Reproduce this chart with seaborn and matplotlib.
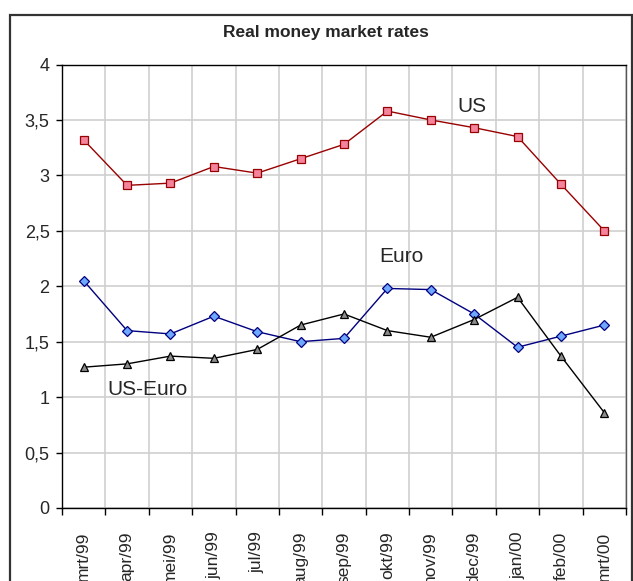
import matplotlib
matplotlib.use("Agg")
import matplotlib.pyplot as plt
from matplotlib.patches import Rectangle
import numpy as np
import pandas as pd
import seaborn as sns

months = ["mrt/99", "apr/99", "mei/99", "jun/99", "jul/99", "aug/99", "sep/99",
          "okt/99", "nov/99", "dec/99", "jan/00", "feb/00", "mrt/00"]
us = [3.32, 2.91, 2.93, 3.08, 3.02, 3.15, 3.28, 3.58, 3.50, 3.43, 3.35, 2.92, 2.50]
euro = [2.05, 1.60, 1.57, 1.73, 1.59, 1.50, 1.53, 1.98, 1.97, 1.75, 1.45, 1.55, 1.65]
us_euro = [1.27, 1.30, 1.37, 1.35, 1.43, 1.65, 1.75, 1.60, 1.54, 1.70, 1.90, 1.37, 0.86]
y_ticks = [0, 0.5, 1, 1.5, 2, 2.5, 3, 3.5, 4]
y_tick_labels = ["0", "0,5", "1", "1,5", "2", "2,5", "3", "3,5", "4"]
title = "Real money market rates"

sns.set_style("white")
plt.rcParams['font.family'] = ['Liberation Sans', 'DejaVu Sans']

fig = plt.figure(figsize=(6.33, 5.81), dpi=100)
ax = fig.add_axes([62 / 633, 1 - 508 / 581, (626 - 62) / 633, (508 - 64.5) / 581])

xpos = np.arange(len(months))
sns.lineplot(x=xpos, y=us, ax=ax, color="#990000", lw=1.0, marker="s", ms=5.5,
             markerfacecolor="#F4849C", markeredgecolor="#990000", markeredgewidth=0.9)
sns.lineplot(x=xpos, y=euro, ax=ax, color="#000080", lw=1.0, marker="D", ms=4.8,
             markerfacecolor="#6FA8FF", markeredgecolor="#000080", markeredgewidth=0.9)
sns.lineplot(x=xpos, y=us_euro, ax=ax, color="black", lw=1.0, marker="^", ms=6,
             markerfacecolor="#8C8C8C", markeredgecolor="black", markeredgewidth=0.9)

ax.set_xlim(-0.5, len(months) - 0.5)
ax.set_ylim(0, 4)
ax.set_xticks(np.arange(-0.5, len(months), 1.0))
ax.set_xticklabels([])
ax.set_xticks(xpos, minor=True)
ax.set_xticklabels(months, minor=True, rotation=90, fontsize=12.5)
ax.tick_params(axis='x', which='major', direction='out', length=5, width=1, color='black', bottom=True)
ax.tick_params(axis='x', which='minor', length=0, pad=17)
ax.set_yticks(y_ticks)
ax.set_yticklabels(y_tick_labels, fontsize=13)
ax.tick_params(axis='y', direction='out', length=4, width=1, color='black', left=True, pad=5)

ax.grid(True, which='major', color='#CFCFCF', lw=1.2)
for s in ax.spines.values():
    s.set_color('black')
    s.set_linewidth(1.0)
ax.spines['right'].set_color('#555555')
ax.set_axisbelow(True)

ax.text(8.95, 3.617, "US", fontsize=15, ha='center', va='center')
ax.text(7.33, 2.27, "Euro", fontsize=15, ha='center', va='center')
ax.text(1.48, 1.072, "US-Euro", fontsize=15, ha='center', va='center')

fig.text(325.5 / 633, 1 - 32 / 581, title, fontsize=12.5, fontweight='bold',
         ha='center', va='center')

fig.patches.append(Rectangle((10 / 633, -0.05), 631.5 / 633 - 10 / 633, 1 - 15 / 581 + 0.05,
                             transform=fig.transFigure, fill=False,
                             edgecolor='#333333', lw=1.6, clip_on=False))

fig.savefig("out.png", dpi=100)
